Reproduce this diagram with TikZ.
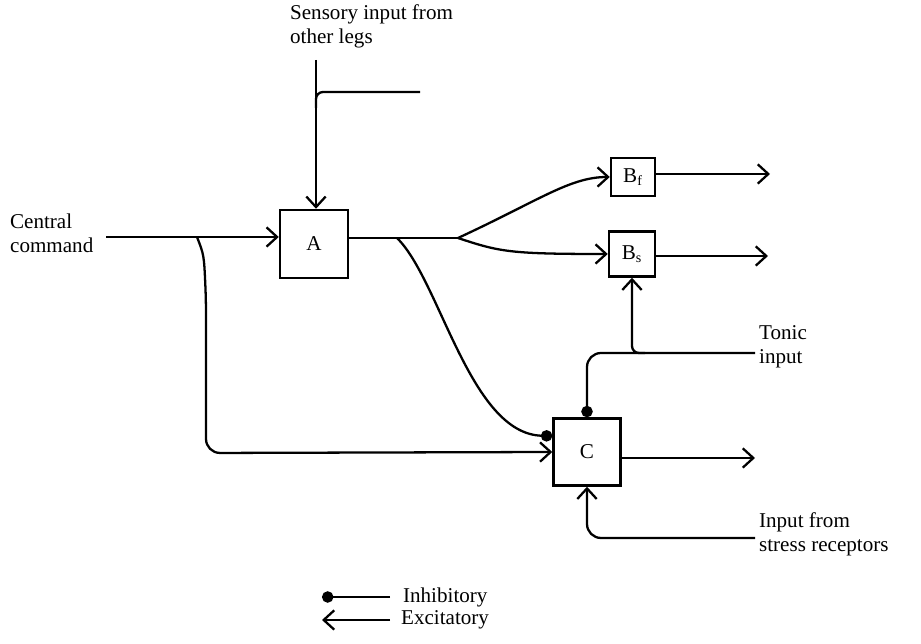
\documentclass[tikz,border=0pt]{standalone}
\usepackage{fontspec}
\setmainfont{Liberation Serif}
\usetikzlibrary{arrows.meta}
\tikzset{
  unit/.style={draw, line width=1.4pt, minimum width=1.36cm, minimum height=1.36cm, inner sep=0pt},
  inhib/.style={-{Circle[length=6.5pt]}},
  lbl/.style={align=left, inner sep=0pt}
}
\begin{document}
\begin{tikzpicture}[x=0.02cm, y=-0.02cm, >={Straight Barb[length=6pt,width=11pt]}, line width=1.3pt, every node/.style={font=\fontsize{12}{13.5}\selectfont}]
  \useasboundingbox (0,0) rectangle (921,644);
  % 1. units
  \node[unit] (A) at (314,244) {A};
  \node[unit, minimum width=0.88cm, minimum height=0.76cm] (Bf) at (633,177) {B\textsubscript{f}};
  \node[unit, minimum width=0.92cm, minimum height=0.9cm] (Bs) at (632,254) {B\textsubscript{s}};
  \node[unit, minimum width=1.34cm, minimum height=1.34cm] (C) at (587,452) {C};

  % 2. labels and free ends
  \node[lbl, anchor=north west] (sens) at (289,4) {Sensory input from\\other legs};
  \node[lbl, anchor=west] (cc) at (9,233) {Central\\command};
  \node[lbl, anchor=west] (tonic) at (758,347) {Tonic\\input};
  \node[lbl, anchor=west] (stress) at (758,534) {Input from\\stress receptors};
  \coordinate (sensin) at (316,60);
  \coordinate (legs) at (420,92);
  \coordinate (ccin) at (106,237);
  \coordinate (ccsplit) at (197,237);
  \coordinate (aout) at (397,238);
  \coordinate (split) at (458,238);
  \coordinate (bfout) at (770,174);
  \coordinate (bsout) at (768,256);
  \coordinate (cout) at (755,458);
  \coordinate (tonicin) at (755,353);
  \coordinate (stressin) at (755,538);

  % 3. connectors
  \draw[->] (sensin) -- (sensin |- A.north);
  \draw[rounded corners=4pt] (316,108) -- (316,92) -- (legs);
  \draw[->] (ccin) -- (ccin -| A.west);
  \draw[->, rounded corners=8pt] (ccsplit) .. controls (204,255) .. (206,300) -- (206,453) -- (C.west);
  \draw (A.east |- split) -- (split);
  \draw[->] (split) .. controls (540,200) and (570,177) .. (Bf.west);
  \draw[->] (split) .. controls (500,252) and (510,254) .. (Bs.west);
  \draw[inhib] (aout) .. controls (440,280) and (470,434) .. ([yshift=0.32cm]C.west);
  \draw[->] (Bf.east |- bfout) -- (bfout);
  \draw[->] (Bs.east |- bsout) -- (bsout);
  \draw[->] (C.east |- cout) -- (cout);
  \draw[inhib, rounded corners=8pt] (tonicin) -- (C.north |- tonicin) -- (C.north);
  \draw[->, rounded corners=4pt] (645,353) -- (Bs.south |- tonicin) -- (Bs.south);
  \draw[->, rounded corners=8pt] (stressin) -- (C.south |- stressin) -- (C.south);

  % 4. legend
  \node[lbl, anchor=west] (inh) at (402,597) {Inhibitory};
  \node[lbl, anchor=west] (exc) at (400,620) {Excitatory};
  \coordinate (inhend) at (322,597);
  \coordinate (excend) at (322,620);
  \draw[inhib] ([xshift=-0.24cm]inh.west) -- (inhend);
  \draw[->] ([xshift=-0.2cm]exc.west) -- (excend);
\end{tikzpicture}
\end{document}
